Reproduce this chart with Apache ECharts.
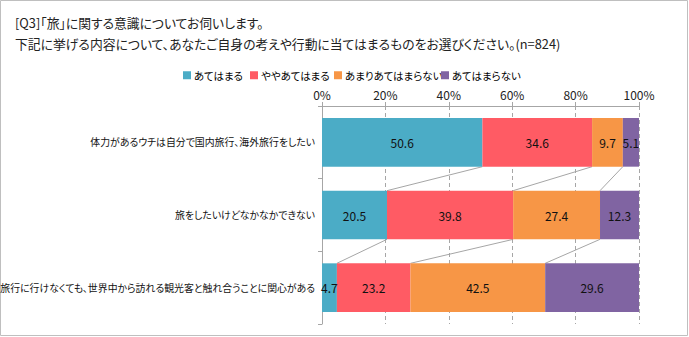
<!DOCTYPE html>
<html>
<head>
<meta charset="utf-8">
<script src="https://cdn.jsdelivr.net/npm/echarts@6/dist/echarts.min.js"></script>
<style>
  html, body { margin: 0; padding: 0; background: #fff; }
  #chart { width: 689px; height: 337px; }
  /* proportional kana spacing for Japanese text */
  #chart text { font-feature-settings: "palt" !important; }
</style>
</head>
<body>
<div id="chart"></div>
<script>
// Survey question rows (top to bottom)
const categories = [
  '体力があるウチは自分で国内旅行、海外旅行をしたい',
  '旅をしたいけどなかなかできない',
  '旅行に行けなくても、世界中から訪れる観光客と触れ合うことに関心がある'
];
// Answer options
const seriesNames = ['あてはまる', 'ややあてはまる', 'あまりあてはまらない', 'あてはまらない'];
// Percentages per answer option, one value per row
const valAtehamaru = [50.6, 20.5, 4.7];
const valYaya = [34.6, 39.8, 23.2];
const valAmari = [9.7, 27.4, 42.5];
const valNot = [5.1, 12.3, 29.6];
const tickValues = [0, 20, 40, 60, 80, 100];

const colors = ['#4BACC6', '#FF5B64', '#F79646', '#8064A2'];
const FONT = '"Noto Sans CJK JP", "Noto Sans", sans-serif';
const GAP = 0.33;

const seriesValues = [valAtehamaru, valYaya, valAmari, valNot];

// Connector lines between cumulative boundaries of neighbouring rows
const connectors = [];
for (let i = 0; i < categories.length - 1; i++) {
  let cumA = 0, cumB = 0;
  for (let k = 0; k < seriesValues.length - 1; k++) {
    cumA += seriesValues[k][i];
    cumB += seriesValues[k][i + 1];
    connectors.push([cumA, i, cumB]);
  }
}

const chart = echarts.init(document.getElementById('chart'), null, { renderer: 'svg' });

const legends = seriesNames.map((name, idx) => ({
  data: [name],
  left: [183, 250, 334, 441][idx],
  top: 70,
  itemWidth: 8,
  itemHeight: 8,
  itemGap: 4,
  icon: 'rect',
  padding: 0,
  textStyle: { fontFamily: FONT, fontSize: 10.5, color: '#000', padding: [0, 0, 0, -2] }
}));

const option = {
  animation: false,
  backgroundColor: '#fff',
  color: colors,
  title: {
    text: '[Q3]「旅」に関する意識についてお伺いします。\n下記に挙げる内容について、あなたご自身の考えや行動に当てはまるものをお選びください。(n=824)',
    left: 15,
    top: 12,
    padding: 0,
    textStyle: { fontFamily: FONT, fontSize: 12.8, fontWeight: 'normal', color: '#222', lineHeight: 21 }
  },
  legend: legends,
  grid: { left: 322, right: 50, top: 106, bottom: 13, outerBoundsMode: 'none', containLabel: false },
  xAxis: {
    type: 'value',
    position: 'top',
    min: 0,
    max: 100,
    interval: 20,
    axisLine: { show: true, lineStyle: { color: '#a6a6a6' } },
    axisTick: { show: true, length: 4, lineStyle: { color: '#a6a6a6' } },
    axisLabel: {
      formatter: v => tickValues.includes(v) ? v + '%' : '',
      fontFamily: FONT, fontSize: 12, color: '#222', margin: 6
    },
    splitLine: { show: true, lineStyle: { color: '#a6a6a6', type: [4, 3] } }
  },
  yAxis: {
    type: 'category',
    inverse: true,
    data: categories,
    axisLine: { show: true, lineStyle: { color: '#a6a6a6' } },
    axisTick: { show: true, length: 4, lineStyle: { color: '#a6a6a6' } },
    axisLabel: { fontFamily: FONT, fontSize: 9.9, color: '#111', margin: 7 }
  },
  series: seriesNames.map((name, idx) => ({
    name,
    type: 'bar',
    stack: 'total',
    barCategoryGap: (GAP * 100) + '%',
    data: seriesValues[idx],
    itemStyle: { color: colors[idx] },
    label: {
      show: true,
      position: 'inside',
      formatter: p => p.value.toFixed(1),
      fontFamily: FONT,
      fontSize: 12,
      color: '#111'
    }
  })).concat([{
    type: 'custom',
    silent: true,
    encode: { x: [0, 2], y: 1 },
    data: connectors,
    renderItem: (params, api) => {
      const half = api.size([0, 1])[1] * (1 - GAP) / 2;
      const p1 = api.coord([api.value(0), api.value(1)]);
      const p2 = api.coord([api.value(2), api.value(1) + 1]);
      return {
        type: 'line',
        shape: { x1: p1[0], y1: p1[1] + half, x2: p2[0], y2: p2[1] - half },
        style: { stroke: '#a6a6a6', lineWidth: 1 }
      };
    },
    z: 1
  }]),
  graphic: [{
    type: 'rect',
    shape: { x: 0.5, y: 0.5, width: 687, height: 335 },
    style: { fill: 'none', stroke: '#bfbfbf', lineWidth: 1 },
    silent: true
  }]
};

chart.setOption(option);
</script>
</body>
</html>
